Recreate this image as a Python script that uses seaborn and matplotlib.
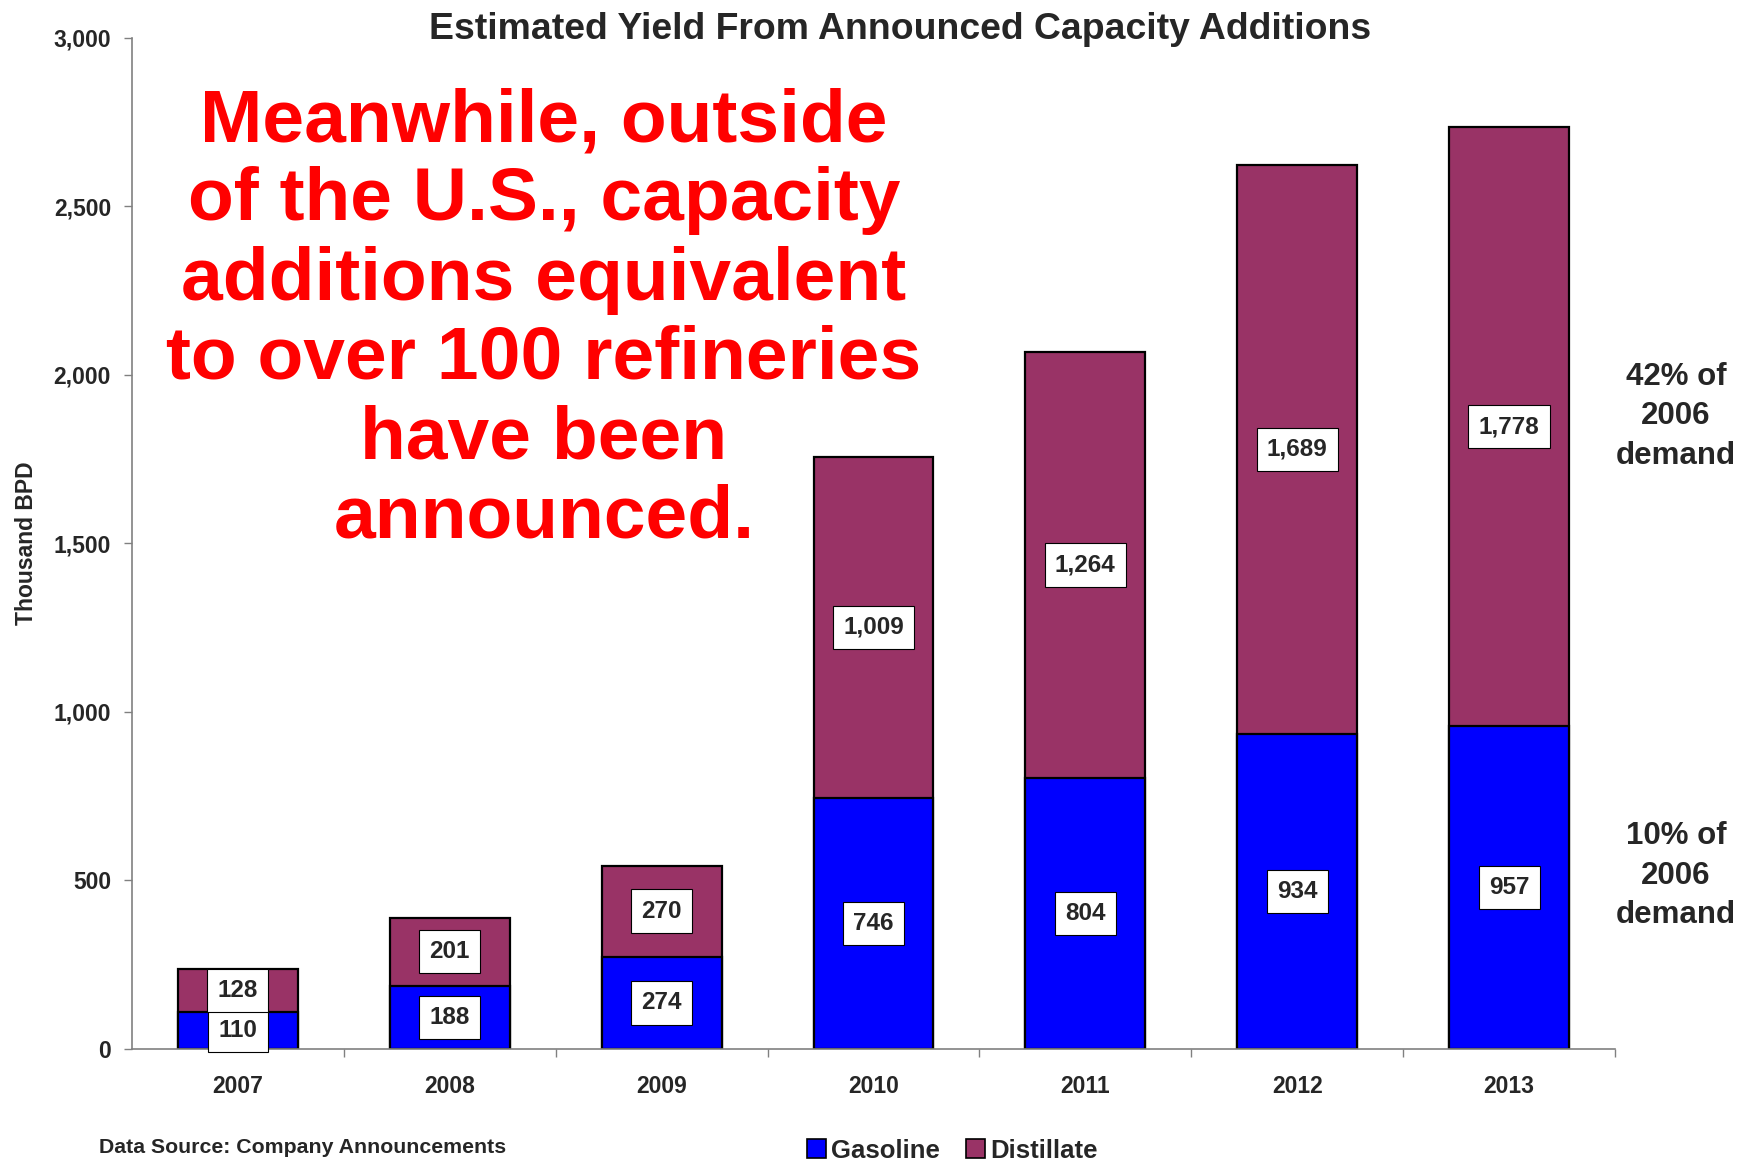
import numpy as np
import pandas as pd
import seaborn as sns
import matplotlib.pyplot as plt
from matplotlib.patches import Patch

years = ['2007', '2008', '2009', '2010', '2011', '2012', '2013']
gasoline = [110, 188, 274, 746, 804, 934, 957]
distillate = [128, 201, 270, 1009, 1264, 1689, 1778]
series_names = ['Gasoline', 'Distillate']
gas_color = '#0000FF'
dist_color = '#993366'

df = pd.DataFrame({'year': years, 'Gasoline': gasoline, 'Distillate': distillate})
df['total'] = df['Gasoline'] + df['Distillate']

sns.set_style('white')
plt.rcParams['font.family'] = ['Liberation Sans', 'DejaVu Sans']
plt.rcParams['font.weight'] = 'bold'

fig = plt.figure(figsize=(17.52, 11.63), dpi=100)
ax = fig.add_axes([0.0753, 0.098, 0.8465, 0.8697])

# stacked bars: total first (distillate colour), then gasoline on top of it
sns.barplot(data=df, x='year', y='total', color=dist_color, saturation=1,
            width=0.566, edgecolor='black', linewidth=1.6, ax=ax)
sns.barplot(data=df, x='year', y='Gasoline', color=gas_color, saturation=1,
            width=0.566, edgecolor='black', linewidth=1.6, ax=ax)

ax.set_xlim(-0.5, len(years) - 0.5)
ax.set_ylim(0, 3000)
ax.set_yticks(np.arange(0, 3001, 500))
ax.set_yticklabels([f'{v:,}' for v in range(0, 3001, 500)])
ax.tick_params(axis='y', length=6, width=1, color='#808080', pad=9, labelsize=16.5, left=True)
ax.set_xticks(range(len(years)))
ax.set_xticklabels(years)
ax.tick_params(axis='x', which='major', length=0, pad=19, labelsize=16.5)
ax.set_xticks(np.arange(-0.5, len(years), 1.0)[1:], minor=True)
ax.tick_params(axis='x', which='minor', length=6, width=1, color='#808080', bottom=True)
for lab in ax.get_xticklabels() + ax.get_yticklabels():
    lab.set_fontweight('bold')

for s in ['top', 'right']:
    ax.spines[s].set_visible(False)
for s in ['left', 'bottom']:
    ax.spines[s].set_color('#808080')
    ax.spines[s].set_linewidth(1.2)

ax.set_xlabel('')
ax.set_ylabel('Thousand BPD', fontsize=16.5, fontweight='bold')
ax.yaxis.set_label_coords(-0.063, 0.5)

box = dict(boxstyle='square,pad=0.42', facecolor='white', edgecolor='black', linewidth=0.8)
for i in range(len(years)):
    ax.text(i, gasoline[i] / 2, f'{gasoline[i]:,}', ha='center', va='center',
            fontsize=17.5, fontweight='bold', bbox=box, zorder=5)
    ax.text(i, gasoline[i] + distillate[i] / 2, f'{distillate[i]:,}', ha='center', va='center',
            fontsize=17.5, fontweight='bold', bbox=box, zorder=5)

fig.text(0.514, 0.975, 'Estimated Yield From Announced Capacity Additions',
         ha='center', va='center', fontsize=26.9, fontweight='bold')

fig.text(0.3105, 0.725,
         'Meanwhile, outside\nof the U.S., capacity\nadditions equivalent\nto over 100 refineries\nhave been\nannounced.',
         ha='center', va='center', fontsize=54, fontweight='bold', color='#FF0000',
         linespacing=1.19)

fig.text(0.9566, 0.642, '42% of\n2006\ndemand', ha='center', va='center',
         fontsize=22.5, fontweight='bold', linespacing=1.42)
fig.text(0.9566, 0.247, '10% of\n2006\ndemand', ha='center', va='center',
         fontsize=22.5, fontweight='bold', linespacing=1.42)

fig.text(0.0565, 0.013, 'Data Source: Company Announcements', ha='left', va='center',
         fontsize=15.3, fontweight='bold')

handles = [Patch(facecolor=gas_color, edgecolor='black', linewidth=1.2),
           Patch(facecolor=dist_color, edgecolor='black', linewidth=1.2)]
fig.legend(handles, series_names, loc='center', bbox_to_anchor=(0.5436, 0.0105),
           ncol=2, frameon=False, handlelength=0.75, handleheight=0.75,
           handletextpad=0.2, columnspacing=1.0, prop={'weight': 'bold', 'size': 18.5})

fig.savefig('out.png', dpi=100)
